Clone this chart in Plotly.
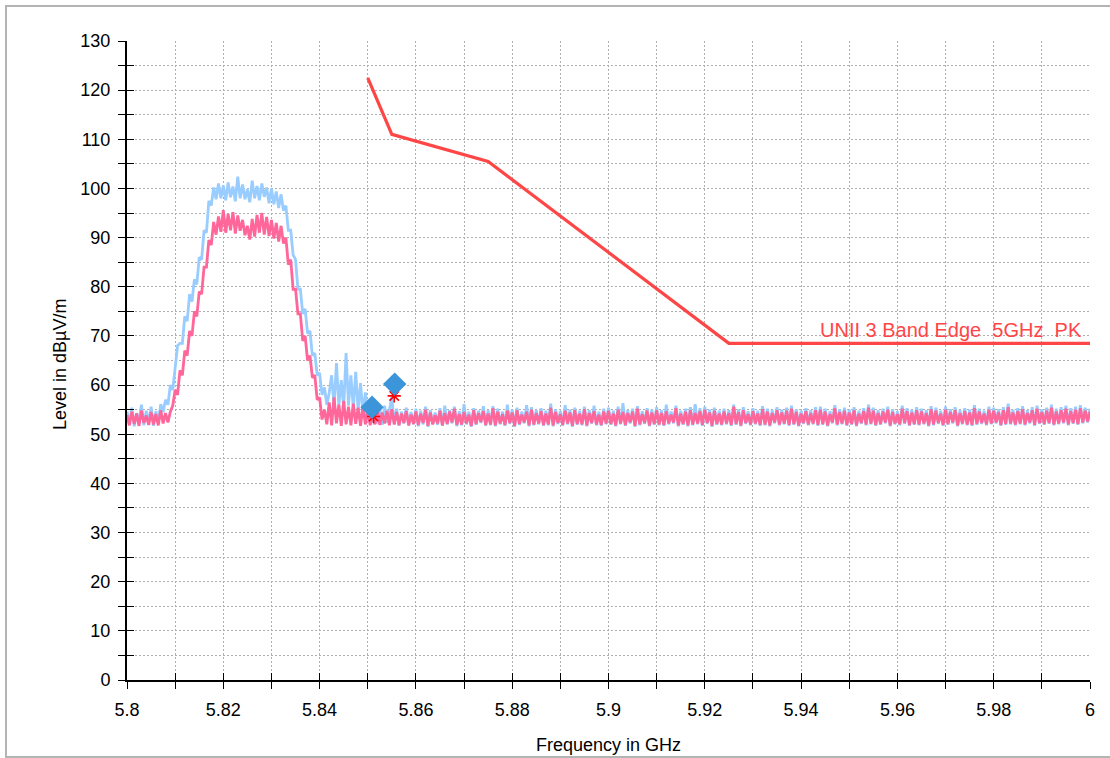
import numpy as np
import plotly.graph_objects as go

# Frequency grid of the sweep (GHz), 0.5 MHz steps from 5.8 to 6.0
freq = np.round(np.linspace(5.8, 6.0, 401), 4)

# Peak detector trace (dBuV/m)
peak = [
    54.6, 52.1, 55.4, 51.6, 54.3, 52.4, 56.0, 51.8, 54.8, 52.2,
    55.6, 51.7, 54.7, 52.3, 56.1, 54.5, 57.0, 56.0, 60.0, 59.0,
    63.5, 68.0, 68.5, 68.5, 74.0, 73.0, 78.5, 77.0, 81.5, 80.5,
    86.0, 85.5, 91.5, 91.0, 97.5, 96.5, 100.2, 97.8, 101.0, 98.0,
    100.6, 97.6, 101.2, 98.2, 100.4, 97.4, 102.4, 98.0, 100.8, 97.8,
    99.8, 97.2, 101.6, 98.0, 100.5, 97.6, 101.0, 98.3, 100.2, 97.0,
    100.0, 96.8, 99.4, 96.0, 98.8, 95.5, 96.5, 91.5, 91.5, 86.5,
    85.5, 79.5, 79.5, 74.5, 75.5, 70.5, 71.0, 66.0, 66.5, 62.0,
    62.5, 58.0, 59.5, 56.0, 58.5, 62.0, 55.5, 64.5, 55.8, 61.0,
    55.4, 66.5, 55.8, 62.0, 55.2, 62.7, 54.8, 60.4, 54.2, 58.5,
    53.0, 56.5, 52.4, 55.6, 52.2, 55.3, 51.9, 55.8, 52.3, 55.0,
    57.6, 52.0, 55.2, 51.7, 54.6, 52.2, 55.4, 51.8, 54.5, 52.0,
    55.2, 51.6, 54.8, 52.0, 55.6, 51.5, 54.9, 52.1, 54.4, 51.9,
    55.3, 51.7, 55.8, 52.0, 54.9, 52.2, 55.6, 51.6, 54.7, 51.8,
    56.1, 52.0, 54.6, 51.5, 55.3, 51.9, 54.8, 52.3, 55.7, 51.7,
    54.9, 51.8, 55.7, 51.6, 55.2, 52.0, 54.6, 51.7, 56.0, 52.1,
    55.0, 51.5, 55.4, 51.9, 54.6, 52.2, 55.9, 51.6, 55.5, 51.8,
    54.9, 52.0, 55.3, 51.7, 54.8, 51.8, 56.2, 51.6, 55.1, 52.1,
    54.7, 51.7, 55.9, 52.0, 55.0, 51.5, 55.4, 51.9, 54.8, 51.8,
    55.6, 51.6, 54.9, 52.1, 55.8, 51.8, 54.6, 51.7, 55.2, 52.0,
    55.4, 51.9, 54.8, 51.6, 55.6, 52.0, 56.3, 51.7, 54.9, 52.2,
    55.2, 51.5, 55.7, 51.8, 54.7, 52.1, 55.3, 51.6, 55.0, 51.9,
    55.5, 51.8, 54.9, 51.7, 56.0, 52.0, 54.6, 52.2, 55.8, 51.6,
    54.8, 51.9, 55.2, 51.6, 55.5, 51.8, 56.1, 52.0, 55.3, 51.7,
    55.6, 52.1, 55.0, 51.5, 55.4, 51.9, 54.8, 51.8, 55.2, 52.0,
    54.9, 51.7, 56.0, 51.9, 55.1, 51.6, 55.5, 52.1, 54.7, 51.8,
    55.3, 52.0, 54.8, 51.7, 55.7, 51.8, 55.2, 51.6, 54.9, 52.2,
    55.5, 51.8, 55.0, 52.0, 55.4, 51.7, 55.8, 51.9, 55.1, 51.6,
    54.8, 52.1, 55.3, 51.8, 54.9, 52.0, 55.5, 51.7, 55.6, 51.9,
    55.2, 51.6, 54.7, 52.2, 55.9, 51.8, 55.1, 52.0, 55.4, 51.7,
    55.0, 51.9, 55.5, 51.6, 54.8, 52.1, 55.3, 51.8, 56.0, 52.0,
    55.4, 51.7, 54.9, 51.9, 55.2, 52.2, 55.6, 51.6, 55.1, 52.0,
    54.7, 51.8, 55.8, 52.1, 55.3, 51.7, 55.0, 51.9, 55.5, 51.8,
    55.2, 52.0, 54.9, 51.6, 55.7, 51.8, 55.4, 52.1, 54.8, 51.7,
    55.6, 51.9, 55.1, 52.2, 55.5, 51.6, 54.9, 52.0, 55.3, 51.8,
    55.0, 51.7, 55.9, 51.9, 55.2, 52.1, 54.8, 51.8, 55.6, 52.0,
    55.4, 52.2, 55.1, 51.7, 55.5, 51.9, 56.2, 52.0, 55.0, 51.8,
    55.3, 52.0, 55.7, 51.8, 54.9, 52.2, 55.5, 51.7, 55.8, 52.1,
    55.1, 51.9, 55.4, 52.1, 56.0, 51.8, 55.2, 52.0, 55.5, 52.2,
    55.8, 51.8, 55.3, 52.1, 55.6, 51.9, 55.9, 52.2, 55.4, 52.4,
    55.2,
]

# Average detector trace (dBuV/m)
average = [
    53.9, 51.8, 54.6, 52.1, 54.2, 51.7, 54.8, 52.3, 53.8, 51.9,
    54.5, 52.0, 54.1, 51.8, 54.9, 52.2, 54.3, 52.4, 54.6, 55.8,
    59.0, 58.0, 63.0, 62.0, 67.0, 66.0, 71.0, 70.0, 75.0, 74.0,
    79.0, 78.5, 84.0, 84.0, 89.5, 88.5, 93.2, 90.6, 94.3, 91.2,
    95.6, 91.0, 94.8, 91.5, 95.2, 90.8, 94.5, 91.4, 93.6, 90.5,
    92.4, 89.6, 93.8, 90.2, 94.6, 91.0, 95.0, 90.6, 94.2, 90.3,
    93.6, 89.8, 93.0, 89.2, 92.4, 88.8, 90.0, 84.5, 85.5, 79.5,
    79.5, 74.5, 74.5, 69.0, 70.0, 65.0, 66.0, 61.5, 62.0, 57.0,
    57.5, 53.0, 55.0, 52.0, 56.5, 51.8, 57.5, 52.2, 56.0, 51.7,
    56.8, 52.0, 55.6, 51.8, 56.2, 52.1, 55.4, 51.7, 55.8, 52.0,
    55.0, 51.8, 54.6, 52.0, 55.2, 51.9, 54.4, 52.2, 54.8, 51.8,
    55.1, 52.0, 54.5, 51.9, 54.2, 52.3, 54.7, 51.8, 54.0, 52.1,
    54.6, 51.9, 54.2, 52.3, 55.0, 51.7, 54.4, 52.0, 53.9, 52.2,
    54.8, 51.8, 54.3, 52.1, 54.6, 52.4, 55.2, 51.9, 54.1, 52.0,
    54.5, 52.2, 54.0, 51.7, 54.9, 52.1, 54.3, 52.5, 54.7, 51.9,
    54.2, 52.0, 55.3, 51.8, 54.6, 52.2, 54.1, 51.9, 54.8, 52.3,
    54.4, 51.7, 54.9, 52.1, 54.0, 52.4, 54.6, 51.8, 55.0, 52.0,
    54.3, 52.2, 54.7, 51.9, 54.2, 52.0, 55.4, 51.8, 54.5, 52.3,
    54.1, 51.9, 54.8, 52.2, 54.4, 51.7, 54.9, 52.1, 54.2, 52.0,
    55.1, 51.8, 54.3, 52.3, 54.7, 52.0, 54.0, 51.9, 54.6, 52.2,
    54.8, 52.1, 54.2, 51.8, 55.0, 52.2, 54.5, 51.9, 54.3, 52.4,
    54.6, 51.7, 55.2, 52.0, 54.1, 52.3, 54.8, 51.8, 54.4, 52.1,
    54.9, 52.0, 54.3, 51.9, 54.7, 52.2, 54.0, 52.4, 55.3, 51.8,
    54.2, 52.1, 54.6, 51.8, 54.9, 52.0, 54.3, 52.2, 54.7, 51.9,
    55.0, 52.3, 54.4, 51.7, 54.8, 52.1, 54.2, 52.0, 54.6, 52.2,
    54.3, 51.9, 55.6, 52.1, 54.5, 51.8, 54.9, 52.3, 54.1, 52.0,
    54.7, 52.2, 54.2, 51.9, 55.1, 52.0, 54.6, 51.8, 54.3, 52.4,
    54.9, 52.0, 54.4, 52.2, 54.8, 51.9, 55.2, 52.1, 54.5, 51.8,
    54.2, 52.3, 54.7, 52.0, 54.3, 52.2, 54.9, 51.9, 55.0, 52.1,
    54.6, 51.8, 54.1, 52.4, 55.3, 52.0, 54.5, 52.2, 54.8, 51.9,
    54.4, 52.1, 54.9, 51.8, 54.2, 52.3, 54.7, 52.0, 55.4, 52.2,
    54.8, 51.9, 54.3, 52.1, 54.6, 52.4, 55.0, 51.8, 54.5, 52.2,
    54.1, 52.0, 55.2, 52.3, 54.7, 51.9, 54.4, 52.1, 54.9, 52.0,
    54.6, 52.2, 54.3, 51.8, 55.1, 52.0, 54.8, 52.3, 54.2, 51.9,
    55.0, 52.1, 54.5, 52.4, 54.9, 51.8, 54.3, 52.2, 54.7, 52.0,
    54.4, 51.9, 55.3, 52.1, 54.6, 52.3, 54.2, 52.0, 55.0, 52.2,
    54.8, 52.4, 54.5, 51.9, 54.9, 52.1, 55.5, 52.2, 54.4, 52.0,
    54.7, 52.2, 55.1, 52.0, 54.3, 52.4, 54.9, 51.9, 55.2, 52.3,
    54.5, 52.1, 54.8, 52.3, 55.4, 52.0, 54.6, 52.2, 54.9, 52.4,
    55.2, 52.0, 54.7, 52.3, 55.0, 52.1, 55.3, 52.4, 54.8, 52.6,
    54.6,
]

# UNII-3 band-edge limit line (peak)
limit_freq = [5.85, 5.855, 5.875, 5.925, 6.0]
limit_level = [122.5, 111.0, 105.5, 68.5, 68.5]
limit_name = "UNII 3 Band Edge  5GHz  PK"

# Final measurement points
final_pk_freq = [5.8509, 5.8556]
final_pk_level = [55.5, 60.2]
final_av_freq = [5.8512, 5.8555]
final_av_level = [53.6, 57.8]

x_ticks = [5.8, 5.82, 5.84, 5.86, 5.88, 5.9, 5.92, 5.94, 5.96, 5.98, 6.0]
x_tick_text = ["5.8", "5.82", "5.84", "5.86", "5.88", "5.9", "5.92", "5.94", "5.96", "5.98", "6"]
y_ticks = list(range(0, 131, 10))

PEAK_COLOR = "#99CCFF"
AVG_COLOR = "#FF6699"
LIMIT_COLOR = "#FF4646"
MARK_COLOR = "#3D95D9"
TICK_FONT = dict(family="Liberation Sans, Arial", size=18, color="#000000")
TITLE_FONT = dict(family="Liberation Sans, Arial", size=18, color="#000000")

fig = go.Figure()
fig.add_trace(go.Scatter(x=freq, y=peak, mode="lines",
                         line=dict(color=PEAK_COLOR, width=2.8), name="Peak"))
fig.add_trace(go.Scatter(x=freq, y=average, mode="lines",
                         line=dict(color=AVG_COLOR, width=2.8), name="Average"))
fig.add_trace(go.Scatter(x=limit_freq, y=limit_level, mode="lines",
                         line=dict(color=LIMIT_COLOR, width=3.2), name=limit_name))
fig.add_trace(go.Scatter(x=final_av_freq, y=final_av_level, mode="markers",
                         marker=dict(symbol="asterisk-open", size=11, color="#FF0000",
                                     line=dict(color="#FF0000", width=1.6)),
                         name="Final AV"))
fig.add_trace(go.Scatter(x=final_pk_freq, y=final_pk_level, mode="markers",
                         marker=dict(symbol="diamond", size=18, color=MARK_COLOR,
                                     line=dict(width=0)),
                         name="Final PK"))
# empty trace carrying the overlay axes used for the inner half of each tick
fig.add_trace(go.Scatter(x=[], y=[], xaxis="x2", yaxis="y2", showlegend=False))

grid = dict(showgrid=True, gridcolor="#AFAFAF", gridwidth=1, griddash="2px,2px")

fig.update_layout(
    width=1110, height=758,
    margin=dict(l=127, r=20, t=41, b=78),
    paper_bgcolor="#FFFFFF", plot_bgcolor="#FFFFFF",
    showlegend=False,
    xaxis=dict(range=[5.8, 6.0], tickmode="array", tickvals=x_ticks, ticktext=x_tick_text,
               ticks="outside", ticklen=7, tickwidth=1, tickcolor="#000000",
               showline=True, linecolor="#000000", linewidth=2,
               tickfont=TICK_FONT, ticklabelstandoff=5, zeroline=False,
               minor=dict(dtick=0.01, tick0=5.8, ticks="outside", ticklen=7,
                          tickcolor="#000000", **grid),
               **grid),
    yaxis=dict(range=[0, 130], tickmode="array", tickvals=y_ticks,
               ticks="outside", ticklen=7, tickwidth=1, tickcolor="#000000",
               showline=True, linecolor="#000000", linewidth=2,
               tickfont=TICK_FONT, ticklabelstandoff=4, zeroline=False,
               minor=dict(dtick=5, tick0=0, ticks="outside", ticklen=7,
                          tickcolor="#000000", **grid),
               **grid),
    xaxis2=dict(range=[5.8, 6.0], overlaying="x", anchor="y2", side="bottom",
                tickmode="linear", tick0=5.8, dtick=0.01, ticks="inside", ticklen=7,
                tickcolor="#000000", showticklabels=False, showgrid=False,
                zeroline=False, showline=False),
    yaxis2=dict(range=[0, 130], overlaying="y", anchor="x2", side="left",
                tickmode="linear", tick0=0, dtick=5, ticks="inside", ticklen=7,
                tickcolor="#000000", showticklabels=False, showgrid=False,
                zeroline=False, showline=False),
)

# limit line name, written just above its flat section
fig.add_annotation(x=6.0, y=68.5, xref="x", yref="y", text=limit_name,
                   showarrow=False, xanchor="right", yanchor="bottom",
                   xshift=-6, yshift=0,
                   font=dict(family="Liberation Sans, Arial", size=20, color=LIMIT_COLOR))

# axis titles
fig.add_annotation(x=(608 - 127) / 963, y=(680 - 745) / 639, xref="paper", yref="paper",
                   text="Frequency in GHz", showarrow=False,
                   xanchor="center", yanchor="middle", font=TITLE_FONT)
fig.add_annotation(x=(60 - 127) / 963, y=(680 - 365) / 639, xref="paper", yref="paper",
                   text="Level in dBµV/m", showarrow=False, textangle=-90,
                   xanchor="center", yanchor="middle", font=TITLE_FONT)

# window frame around the whole chart (right edge falls outside the page)
fig.add_shape(type="rect", xref="paper", yref="paper",
              x0=(6 - 127) / 963, x1=(1130 - 127) / 963,
              y0=(680 - 757) / 639, y1=(680 - 6) / 639,
              line=dict(color="#B4B4B4", width=2), fillcolor="rgba(0,0,0,0)",
              layer="below")

fig.write_html("out.html")
